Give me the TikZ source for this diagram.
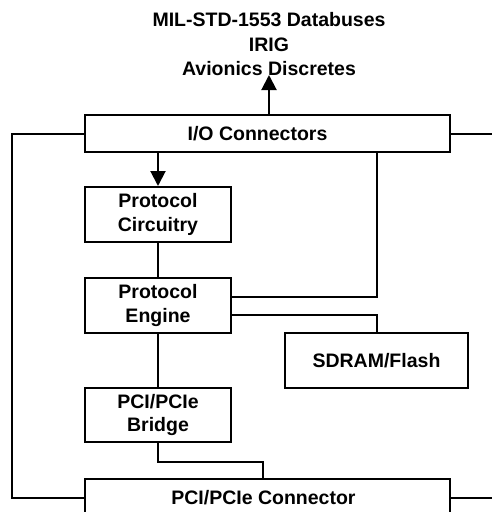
\documentclass[tikz,border=0pt]{standalone}
\usepackage{fontspec}
\setmainfont{Liberation Sans}
\usetikzlibrary{arrows.meta}
\begin{document}
\begin{tikzpicture}[x=1pt,y=-1pt,
  lbl/.style={font=\fontsize{19.5}{23.4}\selectfont\bfseries, inner sep=0pt, align=center},
  blk/.style={draw, line width=2pt, lbl, minimum width=#1, minimum height=55pt},
  bar/.style={draw, line width=2pt, minimum width=365pt, minimum height=37pt, inner sep=0pt},
  wire/.style={line width=2pt},
  arr/.style={line width=2pt, -{Triangle[width=15pt,length=15pt]}},
  toptxt/.style={font=\fontsize{19.5}{23.4}\selectfont\bfseries, inner sep=0pt, anchor=base}]
\useasboundingbox (0,0) rectangle (492,512);
% top labels
\node[toptxt] (t1) at (269,26.7) {MIL-STD-1553 Databuses};
\node[toptxt] (t2) at (269,51.5) {IRIG};
\node[toptxt] (t3) at (269,75) {Avionics Discretes};
\coordinate (tip) at (269,75);
% boxes
\node[bar, label={[lbl,xshift=-10pt]center:I/O Connectors}] (io) at (267.5,133.5) {};
\node[blk=146pt] (pc) at (158,214.5) {Protocol\\Circuitry};
\node[blk=146pt] (pe) at (158,305.5) {Protocol\\Engine};
\node[blk=183pt] (sd) at (376.5,360.5) {SDRAM/Flash};
\node[blk=146pt, minimum height=54pt] (br) at (158,415) {PCI/PCIe\\Bridge};
\node[bar, label={[lbl,xshift=-4pt]center:PCI/PCIe Connector}] (pci) at (267.5,497.5) {};
% edge stubs
\coordinate (eR1) at (495,133.5);
\coordinate (eR2) at (495,497.5);
\coordinate (j) at (263,462);
% connectors
\draw[arr] (tip |- io.north) -- (tip);
\draw[arr] (pc.north |- io.south) -- (pc.north);
\draw[wire] (io.west) -- ++(-72,0) |- (pci.west);
\draw[wire] (io.east) -- (eR1);
\draw[wire] (pci.east) -- (eR2);
\draw[wire] (pc.south) -- (pe.north);
\draw[wire] ([yshift=8.5pt]pe.east) -| (sd.north |- io.south);
\draw[wire] ([yshift=-9.5pt]pe.east) -| (sd.north);
\draw[wire] (pe.south) -- (br.north);
\draw[wire] (br.south) |- (j) -- (j |- pci.north);
\end{tikzpicture}
\end{document}
